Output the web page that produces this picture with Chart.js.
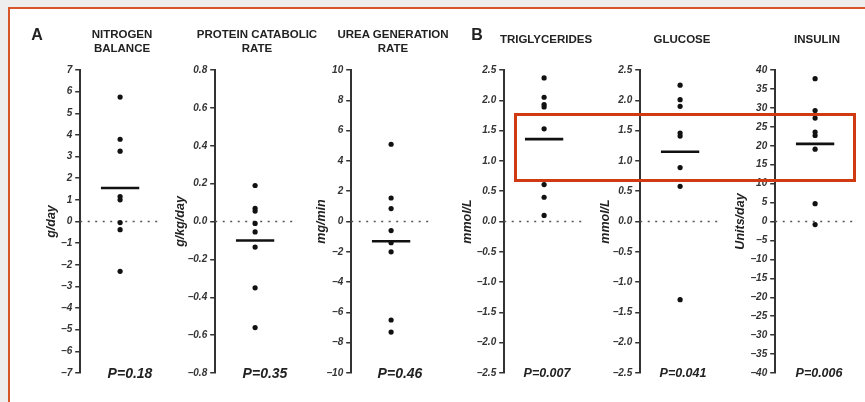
<!DOCTYPE html>
<html>
<head>
<meta charset="utf-8">
<script src="https://cdn.jsdelivr.net/npm/chart.js@4/dist/chart.umd.min.js"></script>
<style>
  html, body { margin: 0; padding: 0; }
  body { width: 865px; height: 402px; overflow: hidden; position: relative; background: #eeeeee;
    font-family: "Liberation Sans", Arial, Helvetica, sans-serif; }
  #frame { position: absolute; left: 8px; top: 7px; width: 900px; height: 450px; background: #fff;
    border-top: 2px solid #d6562a; border-left: 2px solid #d6562a; }
  .panel { position: absolute; top: 0; }
  .ttl { position: absolute; font-weight: bold; font-size: 11.5px; line-height: 14px; color: #222;
    text-align: center; white-space: nowrap; transform: translateX(-50%); }
  .pv { position: absolute; font-weight: bold; font-style: italic; color: #222; white-space: nowrap;
    transform: translate(-50%, -50%); }
  .letter { position: absolute; font-weight: bold; font-size: 16px; color: #222; transform: translate(-50%, -50%); }
  #hl { position: absolute; left: 514px; top: 113px; width: 342px; height: 69px; box-sizing: border-box;
    border: 3px solid #cf3a12; z-index: 5; }
</style>
</head>
<body>
<div id="frame"></div>
<div id="panels"></div>
<div class="letter" style="left:37px;top:35px;">A</div>
<div class="letter" style="left:477px;top:35px;">B</div>
<div id="hl"></div>
<script>
// panel titles, units and p values
const titles = [['NITROGEN', 'BALANCE'], ['PROTEIN CATABOLIC', 'RATE'], ['UREA GENERATION', 'RATE'],
  ['TRIGLYCERIDES'], ['GLUCOSE'], ['INSULIN']];
const units = ['g/day', 'g/kg/day', 'mg/min', 'mmol/L', 'mmol/L', 'Units/day'];
const pValues = ['P=0.18', 'P=0.35', 'P=0.46', 'P=0.007', 'P=0.041', 'P=0.006'];

// axis ranges
const yMin = [-7, -0.8, -10, -2.5, -2.5, -40];
const yMax = [7, 0.8, 10, 2.5, 2.5, 40];
const yStep = [1, 0.2, 2, 0.5, 0.5, 5];
const yDecimals = [0, 1, 0, 1, 1, 0];

// individual values
const nitrogenBalance = [5.75, 3.8, 3.25, 1.15, 1.0, -0.05, -0.38, -2.3];
const proteinCatabolic = [0.19, 0.07, 0.055, -0.01, -0.055, -0.135, -0.35, -0.56];
const ureaGeneration = [5.1, 1.55, 0.85, -0.6, -1.4, -2.0, -6.5, -7.3];
const triglycerides = [2.37, 2.05, 1.93, 1.89, 1.53, 0.61, 0.40, 0.10];
const glucose = [2.25, 2.01, 1.9, 1.46, 1.41, 0.89, 0.58, -1.29];
const insulin = [37.7, 29.3, 27.3, 23.6, 22.7, 19.1, 4.7, -0.8];
const means = [1.55, -0.10, -1.3, 1.36, 1.15, 20.5];

const series = [nitrogenBalance, proteinCatabolic, ureaGeneration, triglycerides, glucose, insulin];

// layout
const axisX = [80, 215, 351, 504, 640, 775];
const unitX = [51, 180, 321, 467, 605, 740];
const pX = [130, 265, 400, 547, 683, 819];
const pSize = [14, 14, 14, 12.5, 12.5, 12.5];
const plotW = 84;
const font = '"Liberation Sans", Arial, Helvetica, sans-serif';

const host = document.getElementById('panels');

series.forEach(function(vals, i) {
  const w = axisX[i] - unitX[i] + 7.2;
  const div = document.createElement('div');
  div.className = 'panel';
  div.style.left = (axisX[i] - w) + 'px';
  const cv = document.createElement('canvas');
  cv.width = Math.round(w + plotW);
  cv.height = 402;
  cv.style.width = cv.width + 'px';
  cv.style.height = '402px';
  div.appendChild(cv);
  host.appendChild(div);

  const dotX = axisX[i] + plotW / 2;
  const t = document.createElement('div');
  t.className = 'ttl';
  t.style.left = dotX + 'px';
  t.style.top = (titles[i].length > 1 ? 27 : 32) + 'px';
  t.innerHTML = titles[i].join('<br>');
  host.appendChild(t);

  const p = document.createElement('div');
  p.className = 'pv';
  p.style.left = pX[i] + 'px';
  p.style.top = '373px';
  p.style.fontSize = pSize[i] + 'px';
  p.textContent = pValues[i];
  host.appendChild(p);

  new Chart(cv, {
    type: 'scatter',
    data: {
      datasets: [
        { data: vals.map(function(v) { return { x: 1, y: v }; }),
          pointRadius: 2.6, pointBackgroundColor: '#111', pointBorderWidth: 0, showLine: false },
        { type: 'line', data: [{ x: 0.52, y: means[i] }, { x: 1.48, y: means[i] }],
          borderColor: '#111', borderWidth: 2.6, pointRadius: 0, fill: false },
        { type: 'line', data: [{ x: 0, y: 0 }, { x: 1.95, y: 0 }],
          borderColor: '#555', borderWidth: 1.5, borderDash: [2, 5.5], pointRadius: 0, fill: false }
      ]
    },
    options: {
      responsive: false, animation: false, devicePixelRatio: 1,
      layout: { padding: { top: 70, bottom: 29, left: 0, right: 0 } },
      plugins: { legend: { display: false }, tooltip: { enabled: false } },
      scales: {
        x: { type: 'linear', display: false, min: 0, max: 2 },
        y: {
          min: yMin[i], max: yMax[i],
          afterFit: function(s) { s.width = w; },
          border: { display: true, color: '#333', width: 2 },
          grid: { drawOnChartArea: false, drawTicks: true, tickLength: 5, color: '#333', lineWidth: 1.5 },
          ticks: {
            stepSize: yStep[i], autoSkip: false, padding: 3, color: '#333',
            font: { family: font, size: 10, weight: 'bold', style: 'italic' },
            callback: function(v) {
              const r = Math.round(v * 1000) / 1000;
              return (r < 0 ? '\u2212' : '') + Math.abs(r).toFixed(yDecimals[i]);
            }
          },
          title: {
            display: true, text: units[i], color: '#222', padding: 0,
            font: { family: font, size: 12.5, weight: 'bold', style: 'italic', lineHeight: 1.2 }
          }
        }
      }
    }
  });
});
</script>
</body>
</html>
